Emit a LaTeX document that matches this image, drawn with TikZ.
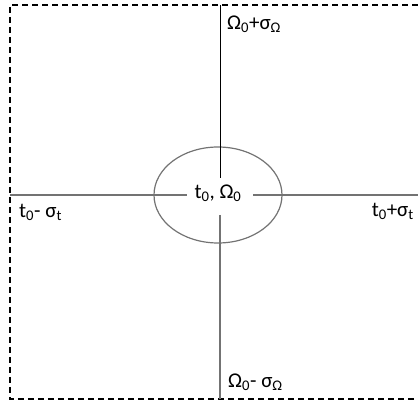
\documentclass[tikz,border=0pt]{standalone}
\usepackage{fontspec}
\setmainfont{Carlito}
\usetikzlibrary{shapes.geometric}
\newcommand{\sbx}[1]{\textsubscript{#1}}
\begin{document}
\begin{tikzpicture}[x=1pt,y=-1pt,
  axis/.style={draw=gray!90!black, line width=1.2pt},
  lbl/.style={font=\fontsize{21}{24}\selectfont, inner sep=0pt},
  border/.style={draw=black, line width=1.6pt, dash pattern=on 6pt off 4pt}]
\useasboundingbox (0,0) rectangle (418,403);
% border (left, top, bottom only visible)
\coordinate (tl) at (10,5);
\coordinate (tr) at (418,5);
\coordinate (bl) at (10,399);
\coordinate (br) at (418,399);
\draw[border] (tr) -- (tl) -- (bl) -- (br);
% ellipse
\node[draw=gray!90!black, line width=1.2pt, ellipse, minimum width=128pt, minimum height=96pt, inner sep=0pt] (e) at (218,195) {};
\node[lbl] (c) at (218,193) {t\sbx{0}, Ω\sbx{0}};
% axis end points
\coordinate (top) at (220,5);
\coordinate (topin) at (220,178);
\coordinate (bot) at (220,399);
\coordinate (botin) at (220,215);
\coordinate (left) at (10,195);
\coordinate (leftin) at (187,195);
\coordinate (right) at (418,195);
\coordinate (rightin) at (253,195);
\draw[black, line width=0.9pt] (top) -- (topin);
\draw[axis] (botin) -- (bot);
\draw[axis] (left) -- (leftin);
\draw[axis] (rightin) -- (right);
% labels
\node[lbl, anchor=west] (omp) at (227,24) {Ω\sbx{0}+σ\sbx{Ω}};
\node[lbl, anchor=west] (tm) at (19,212) {t\sbx{0}- σ\sbx{t}};
\node[lbl, anchor=east] (tp) at (414,211) {t\sbx{0}+σ\sbx{t}};
\node[lbl, anchor=west] (omm) at (228,382) {Ω\sbx{0}- σ\sbx{Ω}};
\end{tikzpicture}
\end{document}
